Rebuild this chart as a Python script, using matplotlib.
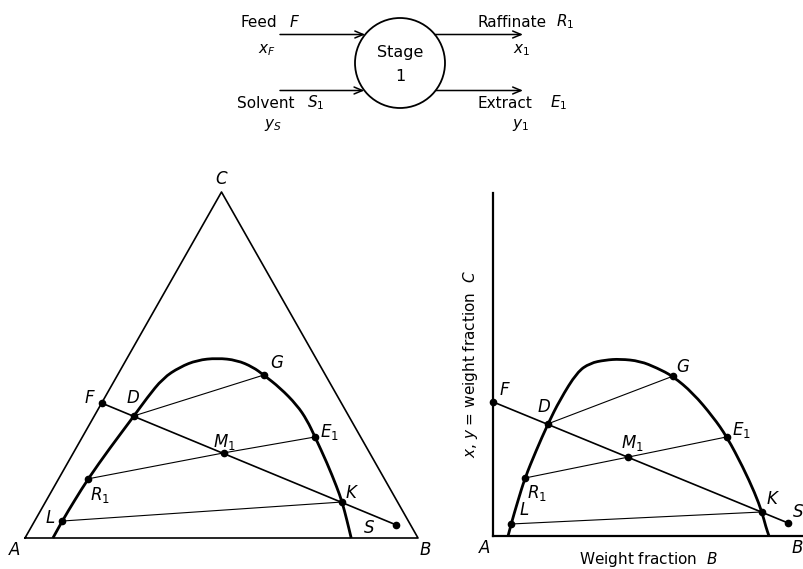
import numpy as np
import matplotlib.pyplot as plt
from matplotlib.patches import Circle, FancyArrowPatch, PathPatch
from matplotlib.path import Path

plt.rcParams['font.family'] = ['DejaVu Sans']
plt.rcParams['mathtext.fontset'] = 'dejavusans'

# binodal curve on the triangular diagram (weight fractions B, C)
tri_curve_b = [0.071, 0.070, 0.072, 0.075, 0.086, 0.101, 0.108, 0.120, 0.147, 0.181, 0.229,
               0.282, 0.333, 0.372, 0.432, 0.500, 0.547, 0.592, 0.660, 0.720, 0.755, 0.793, 0.830]
tri_curve_c = [0.000, 0.049, 0.110, 0.171, 0.260, 0.353, 0.405, 0.462, 0.494, 0.514, 0.520,
               0.514, 0.494, 0.471, 0.434, 0.384, 0.341, 0.292, 0.217, 0.147, 0.104, 0.052, 0.000]

# binodal curve on the rectangular diagram
rect_curve_b = [0.049, 0.059, 0.081, 0.104, 0.140, 0.179, 0.218, 0.274, 0.316, 0.365, 0.414,
                0.479, 0.534, 0.586, 0.651, 0.717, 0.762, 0.814, 0.853, 0.876, 0.889, 0.899]
rect_curve_c = [0.000, 0.035, 0.102, 0.169, 0.248, 0.327, 0.397, 0.478, 0.504, 0.513, 0.516,
                0.510, 0.490, 0.466, 0.417, 0.347, 0.289, 0.201, 0.125, 0.070, 0.026, 0.000]

# lettered points
pt_names = ['F', 'D', 'G', 'M1', 'E1', 'R1', 'K', 'L', 'S']
tri_pt_b = [0.000, 0.101, 0.372, 0.383, 0.592, 0.075, 0.755, 0.070, 0.925]
tri_pt_c = [0.390, 0.353, 0.471, 0.246, 0.292, 0.171, 0.104, 0.049, 0.038]
rect_pt_b = [0.000, 0.179, 0.586, 0.440, 0.762, 0.104, 0.876, 0.059, 0.961]
rect_pt_c = [0.391, 0.327, 0.466, 0.230, 0.289, 0.169, 0.070, 0.035, 0.038]

tie_lines = [['L', 'K'], ['R1', 'M1', 'E1'], ['D', 'G']]
mixing_line = ['F', 'S']

labels = {'F': '$F$', 'D': '$D$', 'G': '$G$', 'M1': '$M_1$', 'E1': '$E_1$',
          'R1': '$R_1$', 'K': '$K$', 'L': '$L$', 'S': '$S$'}

# label offsets in pixels
tri_offsets = {'F': (-12, 5), 'D': (-1, 18), 'G': (13, 12), 'M1': (1, 11), 'E1': (14, 5),
               'R1': (12, -16), 'K': (10, 9), 'L': (-12, 3), 'S': (-27, -3)}
rect_offsets = {'F': (12, 12), 'D': (-4, 17), 'G': (10, 9), 'M1': (4, 14), 'E1': (15, 7),
                'R1': (12, -15), 'K': (11, 13), 'L': (13, 14), 'S': (10, 11)}

W, H = 804, 569
fig = plt.figure(figsize=(W / 100, H / 100), dpi=100)


def box_axes(x0, y0, x1, y1):
    return fig.add_axes([x0 / W, 1 - y1 / H, (x1 - x0) / W, (y1 - y0) / H])


def tern(b, c):
    b, c = np.asarray(b), np.asarray(c)
    return b + 0.5 * c, 0.866 * c


def smooth_curve(ax, xs, ys, **kw):
    # quadratic Bezier through the midpoints, read points act as control points
    pts = np.column_stack([xs, ys])
    verts, codes = [pts[0]], [Path.MOVETO]
    for i in range(1, len(pts) - 1):
        verts += [pts[i], (pts[i] + pts[i + 1]) / 2]
        codes += [Path.CURVE3, Path.CURVE3]
    verts.append(pts[-1])
    codes.append(Path.LINETO)
    ax.add_patch(PathPatch(Path(verts, codes), fill=False, clip_on=False, **kw))


def draw_points(ax, xs, ys, offsets):
    pos = dict(zip(pt_names, zip(xs, ys)))
    for seq in tie_lines:
        ax.plot([pos[n][0] for n in seq], [pos[n][1] for n in seq], color='black', lw=0.8,
                clip_on=False, zorder=2)
    ax.plot([pos[n][0] for n in mixing_line], [pos[n][1] for n in mixing_line],
            color='black', lw=1.2, clip_on=False, zorder=2)
    ax.plot(xs, ys, 'o', color='black', ms=4.5, clip_on=False, zorder=4)
    for n in pt_names:
        ax.annotate(labels[n], pos[n], xytext=offsets[n], textcoords='offset pixels',
                    ha='center', va='center', fontsize=12, annotation_clip=False)


# --- single-stage flow sheet ---
ax0 = fig.add_axes([0, 0, 1, 1])
ax0.set_xlim(0, W)
ax0.set_ylim(H, 0)
ax0.axis('off')

cx, cy, r = 400, 63, 45
ax0.add_patch(Circle((cx, cy), r, fill=False, lw=1.3, color='black'))
ax0.text(cx, 52, 'Stage', ha='center', va='center', fontsize=11.5)
ax0.text(cx, 76, '1', ha='center', va='center', fontsize=11.5)

rows = [34.5, 90.5]
for row in rows:
    dx = np.sqrt(r ** 2 - (row - cy) ** 2)
    for x_start, x_end in [(280, cx - dx), (cx + dx, 523)]:
        ax0.add_patch(FancyArrowPatch((x_start, row), (x_end, row), lw=1.1, color='black',
                                      arrowstyle='->,head_length=0.6,head_width=0.25',
                                      mutation_scale=10, shrinkA=0, shrinkB=0))

ax0.text(277, 22, 'Feed', ha='right', va='center', fontsize=11)
ax0.text(289, 22, '$F$', ha='left', va='center', fontsize=11)
ax0.text(267, 50, '$x_F$', ha='center', va='center', fontsize=11)
ax0.text(295, 103, 'Solvent', ha='right', va='center', fontsize=11)
ax0.text(307, 103, '$S_1$', ha='left', va='center', fontsize=11)
ax0.text(273, 125, '$y_S$', ha='center', va='center', fontsize=11)
ax0.text(478, 22, 'Raffinate', ha='left', va='center', fontsize=11)
ax0.text(556, 22, '$R_1$', ha='left', va='center', fontsize=11)
ax0.text(522, 50, '$x_1$', ha='center', va='center', fontsize=11)
ax0.text(478, 103, 'Extract', ha='left', va='center', fontsize=11)
ax0.text(550, 103, '$E_1$', ha='left', va='center', fontsize=11)
ax0.text(521, 125, '$y_1$', ha='center', va='center', fontsize=11)

# --- triangular diagram ---
ax1 = box_axes(25, 192, 418, 538)
ax1.set_xlim(0, 1)
ax1.set_ylim(0, 0.866)
ax1.axis('off')
tx, ty = tern([0, 1, 0, 0], [0, 0, 1, 0])
ax1.plot(tx, ty, color='black', lw=1.2, clip_on=False)
cxs, cys = tern(tri_curve_b, tri_curve_c)
smooth_curve(ax1, cxs, cys, color='black', lw=2.0, zorder=3)
pxs, pys = tern(tri_pt_b, tri_pt_c)
draw_points(ax1, pxs, pys, tri_offsets)
for name, (b, c), off in [('A', (0, 0), (-10, -12)), ('B', (1, 0), (7, -12)),
                          ('C', (0, 1), (0, 13))]:
    ax1.annotate(f'${name}$', tern(b, c), xytext=off, textcoords='offset pixels',
                 ha='center', va='center', fontsize=12, annotation_clip=False)

# --- rectangular diagram ---
ax2 = box_axes(493, 193, 804, 536)
ax2.set_xlim(0, 311 / 307)
ax2.set_ylim(0, 1)
for side in ['top', 'right']:
    ax2.spines[side].set_visible(False)
for side in ['left', 'bottom']:
    ax2.spines[side].set_linewidth(1.6)
ax2.set_xticks([])
ax2.set_yticks([])
ax2.patch.set_visible(False)
smooth_curve(ax2, rect_curve_b, rect_curve_c, color='black', lw=2.0, zorder=3)
draw_points(ax2, rect_pt_b, rect_pt_c, rect_offsets)
ax2.annotate('$A$', (0, 0), xytext=(-8, -12), textcoords='offset pixels',
             ha='center', va='center', fontsize=12, annotation_clip=False)
ax2.annotate('$B$', (1, 0), xytext=(-3, -12), textcoords='offset pixels',
             ha='center', va='center', fontsize=12, annotation_clip=False)
ax2.set_xlabel('Weight fraction  $B$', fontsize=11, labelpad=10)
ax2.set_ylabel('$x$, $y$ = weight fraction  $C$', fontsize=11, labelpad=9)

fig.savefig('out.png', dpi=100)
